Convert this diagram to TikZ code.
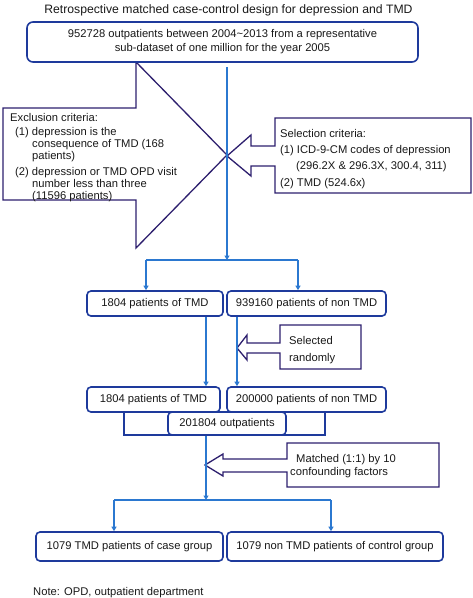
\documentclass[tikz,border=0pt]{standalone}
\usepackage{fontspec}
\setmainfont{Liberation Sans}
\usetikzlibrary{arrows.meta}

\definecolor{boxblue}{HTML}{1E3A9C}
\definecolor{linkblue}{HTML}{2B78D0}
\definecolor{calloutnavy}{HTML}{2D1F6E}

\tikzset{
  stage/.style={draw=boxblue, line width=1.6pt, rounded corners=4pt, fill=white, inner sep=0pt,
    font=\fontsize{11.2}{14}\selectfont, text=black!90, align=center},
  link/.style={draw=linkblue, line width=1.1pt},
  linkarrow/.style={link, -{Triangle[width=5pt,length=4.5pt]}},
  callout/.style={draw=calloutnavy, line width=1.3pt, fill=white, line join=miter},
  label/.style={inner sep=0pt, align=left, text=black!90, anchor=base west},
}

\begin{document}
\begin{tikzpicture}[x=1pt,y=-1pt]
\useasboundingbox (0,0) rectangle (472,598);

\node[label, anchor=base, font=\fontsize{12.2}{14}\selectfont] (title) at (228.5,13)
  {Retrospective matched case-control design for depression and TMD};

% callout arrows
\draw[callout] (3,108) -- (136,108) -- (136,62) -- (227,155) -- (136,248) -- (136,200) -- (3,200) -- cycle;
\draw[callout] (471,118) -- (275,118) -- (275,146) -- (251,146) -- (251,135) -- (227,156)
  -- (251,176) -- (251,166) -- (275,166) -- (275,193) -- (471,193) -- cycle;
\draw[callout] (361,325) -- (280,325) -- (280,343) -- (247,343) -- (247,335) -- (237,348)
  -- (247,360) -- (247,353) -- (280,353) -- (280,369) -- (361,369) -- cycle;
\draw[callout] (439,443) -- (287,443) -- (287,459) -- (223,459) -- (223,454) -- (205,465)
  -- (223,476) -- (223,472) -- (287,472) -- (287,487) -- (439,487) -- cycle;

% base anchors sit on the last line
\node[label, font=\fontsize{11.2}{12}\selectfont] (exclude) at (10,199)
  {Exclusion criteria:\\[2.5pt]
   \hspace*{5pt}(1) depression is the\\
   \hspace*{22pt}consequence of TMD (168\\
   \hspace*{22pt}patients)\\[3.5pt]
   \hspace*{5pt}(2) depression or TMD OPD visit\\
   \hspace*{22pt}number less than three\\
   \hspace*{22pt}(11596 patients)};
\node[label, font=\fontsize{11.2}{16.3}\selectfont] (select) at (280,186)
  {Selection criteria:\\
   (1) ICD-9-CM codes of depression\\
   \hspace*{16pt}(296.2X \& 296.3X, 300.4, 311)\\
   (2) TMD (524.6x)};
\node[label, font=\fontsize{11.2}{16.7}\selectfont] (random) at (289,361)
  {Selected\\ randomly};
\node[label, font=\fontsize{11.2}{13}\selectfont] (match) at (290,475)
  {\hspace*{6pt}Matched (1:1) by 10\\ confounding factors};

% flow boxes
\node[stage, rounded corners=6pt, minimum width=391pt, minimum height=40pt] (src) at (222.5,42)
  {952728 outpatients between 2004\textasciitilde 2013 from a representative\\
   sub-dataset of one million for the year 2005};
\node[stage, minimum width=136pt, minimum height=25pt] (tmd1) at (155,303.5) {1804 patients of TMD};
\node[stage, minimum width=159pt, minimum height=25pt] (non1) at (306.5,303.5) {939160 patients of non TMD};
\node[stage, rounded corners=0pt, minimum width=201pt, minimum height=23pt] (pool) at (224.5,423.5) {};
\node[stage, minimum width=133pt, minimum height=25pt] (tmd2) at (153.5,399.5) {1804 patients of TMD};
\node[stage, minimum width=159pt, minimum height=25pt] (non2) at (306.5,399.5) {200000 patients of non TMD};
\node[stage, minimum width=118pt, minimum height=23pt] (out) at (227,423.5) {201804 outpatients};
\node[stage, minimum width=187pt, minimum height=29pt] (case) at (129.5,546.5) {1079 TMD patients of case group};
\node[stage, minimum width=216pt, minimum height=29pt] (ctrl) at (335,546.5) {1079 non TMD patients of control group};

\coordinate (split) at (227,260);
\coordinate (bl) at (146,260);
\coordinate (br) at (298,260);
\coordinate (lanel) at (206,0);
\coordinate (laner) at (237,0);
\coordinate (merge) at (206,500);
\coordinate (ml) at (114,500);
\coordinate (mr) at (331,500);

\draw[linkarrow, shorten <=4pt] (src.south -| split) -- (split);
\draw[link] (bl) -- (br);
\draw[linkarrow] (bl) -- (bl |- tmd1.north);
\draw[linkarrow] (br) -- (br |- non1.north);
\draw[linkarrow] (tmd1.south -| lanel) -- (tmd2.north -| lanel);
\draw[linkarrow] (non1.south -| laner) -- (non2.north -| laner);
\draw[linkarrow] (pool.south -| lanel) -- (merge);
\draw[link] (ml) -- (mr);
\draw[linkarrow] (ml) -- (ml |- case.north);
\draw[linkarrow] (mr) -- (mr |- ctrl.north);

\node[label, font=\fontsize{11.2}{13}\selectfont] (remark) at (33,595) {Note: OPD, outpatient department};

\end{tikzpicture}
\end{document}
